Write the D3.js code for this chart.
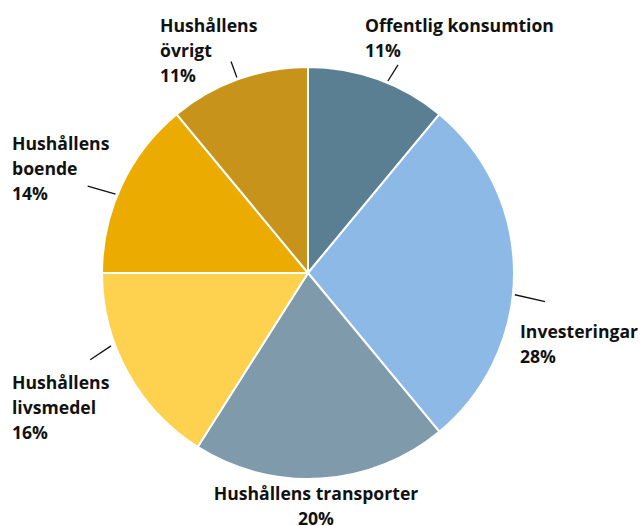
<!DOCTYPE html>
<html>
<head>
<meta charset="utf-8">
<script src="https://cdn.jsdelivr.net/npm/d3@7"></script>
<style>
  html, body { margin: 0; padding: 0; background: #fff; }
  svg { display: block; }
  .lbl { font-family: "Open Sans", "Noto Sans", sans-serif; font-weight: 700; font-size: 17.6px; fill: #111; }
</style>
</head>
<body>
<div id="chart"></div>
<script>
  /* ---- Data ---- */
  const categories = ['Offentlig konsumtion', 'Investeringar', 'Hushållens transporter',
                      'Hushållens livsmedel', 'Hushållens boende', 'Hushållens övrigt'];
  const shares = [11, 28, 20, 16, 14, 11];
  const labelLines = [
    ['Offentlig konsumtion', '11%'],
    ['Investeringar', '28%'],
    ['Hushållens transporter', '20%'],
    ['Hushållens', 'livsmedel', '16%'],
    ['Hushållens', 'boende', '14%'],
    ['Hushållens', 'övrigt', '11%']
  ];
  const colors = ['#5a7f93', '#8db9e6', '#7e9aab', '#fed24f', '#ecab00', '#c7931a'];

  /* ---- Layout ---- */
  const W = 642, H = 526;
  const cx = 308, cy = 273, R = 206;

  // label placement: text x, first baseline, anchor, leader angle (deg), leader length
  const labelPos = [
    { x: 365, y: 32,  anchor: 'start',  ang: 22.6, len: 19, r0: 208, bend: 9.4 },
    { x: 520, y: 338, anchor: 'start',  ang: 96,   len: 31, r0: 208, bend: 7 },
    { x: 316, y: 500, anchor: 'middle', ang: null },
    { x: 12,  y: 389, anchor: 'start',  ang: 249.7, len: 25, r0: 210, bend: -13.4 },
    { x: 12,  y: 150, anchor: 'start',  ang: 292.3, len: 29, r0: 208, bend: -6.3 },
    { x: 160, y: 32,  anchor: 'start',  ang: 340,  len: 17, r0: 208, bend: 0 }
  ];

  const svg = d3.select('#chart').append('svg')
    .attr('width', W).attr('height', H);

  const pie = d3.pie().sort(null).value(d => d)(shares);
  const arc = d3.arc().innerRadius(0).outerRadius(R);

  const g = svg.append('g').attr('transform', `translate(${cx},${cy})`);
  g.selectAll('path')
    .data(pie)
    .join('path')
      .attr('d', arc)
      .attr('fill', (d, i) => colors[i])
      .attr('stroke', '#fff')
      .attr('stroke-width', 2)
      .attr('stroke-linejoin', 'round');

  /* ---- Leader lines ---- */
  labelPos.forEach((p, i) => {
    if (p.ang == null) return;
    const a = p.ang * Math.PI / 180;
    const x0 = Math.sin(a) * p.r0, y0 = -Math.cos(a) * p.r0;
    const a2 = (p.ang + p.bend) * Math.PI / 180;
    const x1 = x0 + Math.sin(a2) * p.len, y1 = y0 - Math.cos(a2) * p.len;
    g.append('line')
      .attr('x1', x0).attr('y1', y0)
      .attr('x2', x1).attr('y2', y1)
      .attr('stroke', '#111')
      .attr('stroke-width', 1.3);
  });

  /* ---- Labels ---- */
  labelLines.forEach((lines, i) => {
    const p = labelPos[i];
    const t = svg.append('text')
      .attr('class', 'lbl')
      .attr('text-anchor', p.anchor);
    lines.forEach((s, k) => {
      t.append('tspan')
        .attr('x', p.x)
        .attr('y', p.y + k * 25)
        .text(s);
    });
  });
</script>
</body>
</html>
